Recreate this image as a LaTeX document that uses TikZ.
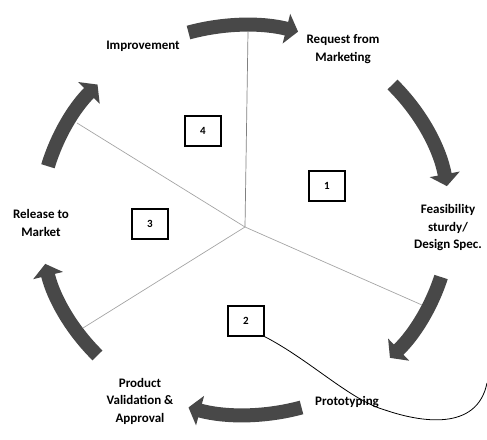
\documentclass[tikz,border=0pt]{standalone}
\usepackage{fontspec}
\setmainfont{Carlito}
\usetikzlibrary{arrows.meta}
\definecolor{arrowgray}{RGB}{72,72,72}
\definecolor{spoke}{RGB}{165,165,165}
\tikzset{
  cyclearrow/.style={draw=arrowgray, line width=14pt, -{Triangle[length=12pt,width=30pt]}},
  spokeline/.style={draw=spoke, line width=0.7pt},
  lbl/.style={font=\bfseries\fontsize{13}{17.5}\selectfont, align=center, inner sep=0pt},
  numbox/.style={draw=black, line width=1.2pt, minimum width=36pt, minimum height=30pt, inner sep=0pt, font=\bfseries\fontsize{11}{13}\selectfont}
}
\begin{document}
\begin{tikzpicture}[x=1pt,y=1pt]
\useasboundingbox (-245,-219) rectangle (242,220);
% spokes
\coordinate (c) at (0,-7);
\coordinate (s1) at (3,188);
\coordinate (s2) at (-168,97);
\coordinate (s3) at (177,-85);
\coordinate (s4) at (-162,-108);
\draw[spokeline, draw=gray] (c) -- (s1);
\draw[spokeline] (c) -- (s2);
\draw[spokeline] (c) -- (s3);
\draw[spokeline] (c) -- (s4);
% arrows
\draw[cyclearrow] (106:205pt and 195pt) arc[start angle=106, end angle=75, x radius=205pt, y radius=195pt];
\draw[cyclearrow] (44:205pt and 195pt) arc[start angle=44, end angle=10, x radius=205pt, y radius=195pt];
\draw[cyclearrow] (-17:205pt and 195pt) arc[start angle=-17, end angle=-45, x radius=205pt, y radius=195pt];
\draw[cyclearrow] (-74:205pt and 195pt) arc[start angle=-74, end angle=-106, x radius=205pt, y radius=195pt];
\draw[cyclearrow] (-136:205pt and 195pt) arc[start angle=-136, end angle=-167, x radius=205pt, y radius=195pt];
\draw[cyclearrow] (164:205pt and 195pt) arc[start angle=164, end angle=136, x radius=205pt, y radius=195pt];
% labels
\node[lbl] (imp) at (-102,174) {Improvement};
\node[lbl] (req) at (98,171) {Request from\\Marketing};
\node[lbl] (fea) at (203,-8) {Feasibility\\sturdy/\\Design Spec.};
\node[lbl] (pro) at (102,-182) {Prototyping};
\node[lbl] (val) at (-105,-181) {Product\\Validation \&\\Approval};
\node[lbl] (rel) at (-204,-3) {Release to\\Market};
% number boxes
\node[numbox] (b4) at (-42,89) {4};
\node[numbox] (b1) at (82,34) {1};
\node[numbox] (b3) at (-95,-4) {3};
\node[numbox] (b2) at (1,-101) {2};
% stray curve
\coordinate (cend) at (242,-163);
\draw[black, line width=0.8pt] (b2.south east) .. controls (65,-140) and (105,-180) .. (140,-190) .. controls (175,-202) and (232,-212) .. (cend);
\end{tikzpicture}
\end{document}
